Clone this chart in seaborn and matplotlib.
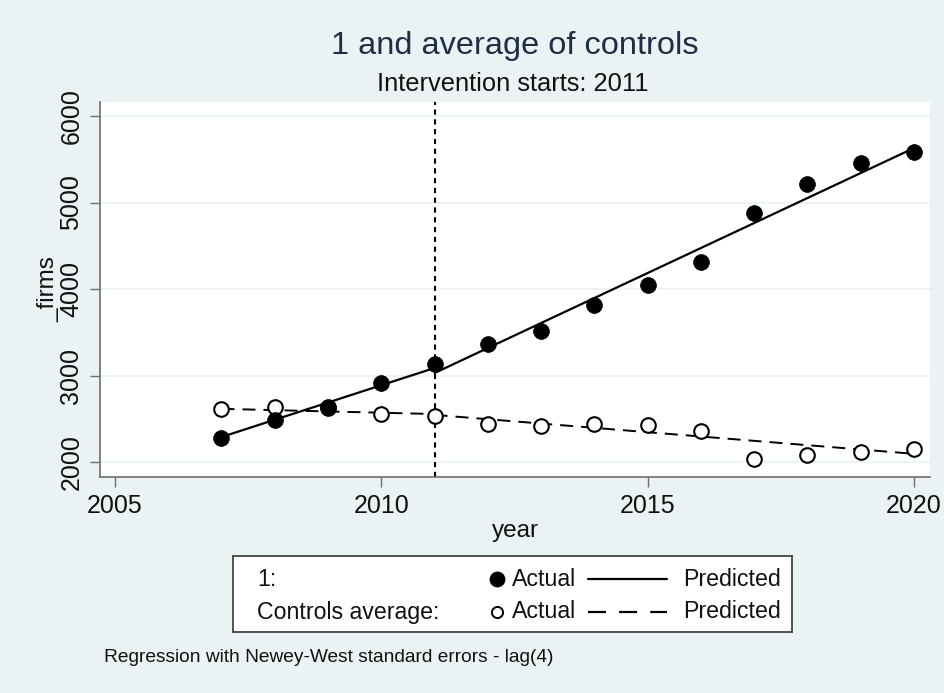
import seaborn as sns
import matplotlib.pyplot as plt
import pandas as pd
from matplotlib.lines import Line2D

# data
years = [2007, 2008, 2009, 2010, 2011, 2012, 2013, 2014, 2015, 2016, 2017, 2018, 2019, 2020]
treated_actual = [2277, 2486, 2636, 2913, 3133, 3364, 3514, 3815, 4046, 4312, 4879, 5214, 5457, 5584]
controls_actual = [2613, 2636, 2630, 2555, 2532, 2439, 2416, 2439, 2428, 2358, 2035, 2081, 2116, 2150]

pre_years = [2007, 2008, 2009, 2010, 2011]
treated_pred_pre = [2289, 2489, 2688, 2888, 3087]
controls_pred_pre = [2615, 2600, 2585, 2570, 2555]

post_years = [2011, 2012, 2013, 2014, 2015, 2016, 2017, 2018, 2019, 2020]
treated_pred_post = [3029, 3318, 3607, 3896, 4185, 4474, 4763, 5052, 5341, 5630]
controls_pred_post = [2545, 2495, 2445, 2395, 2345, 2295, 2245, 2195, 2145, 2095]

x_ticks = [2005, 2010, 2015, 2020]
y_ticks = [2000, 3000, 4000, 5000, 6000]
intervention = 2011

actual = pd.DataFrame({"year": years, "treated": treated_actual, "controls": controls_actual})
pre = pd.DataFrame({"year": pre_years, "treated": treated_pred_pre, "controls": controls_pred_pre})
post = pd.DataFrame({"year": post_years, "treated": treated_pred_post, "controls": controls_pred_post})

sns.set_style("white")
plt.rcParams["font.family"] = ["Liberation Sans", "DejaVu Sans"]

BG = "#eaf2f3"
W, H = 944, 693
fig = plt.figure(figsize=(W / 100, H / 100), dpi=100, facecolor=BG)
ax = fig.add_axes([100 / W, 1 - 477 / H, 830 / W, 375 / H])
ax.set_facecolor("white")

# gridlines
for yt in y_ticks:
    ax.axhline(yt, color=BG, lw=1.2, zorder=0)

# predicted lines
for df in (pre, post):
    sns.lineplot(data=df, x="year", y="treated", ax=ax, color="black", lw=1.6, zorder=2)
    sns.lineplot(data=df, x="year", y="controls", ax=ax, color="black", lw=1.4,
                 linestyle=(0, (6.7, 4.1)), zorder=2)

# actual points
sns.scatterplot(data=actual, x="year", y="controls", ax=ax, s=110, marker="o",
                facecolor="white", edgecolor="black", linewidth=1.5, zorder=3)
sns.scatterplot(data=actual, x="year", y="treated", ax=ax, s=130, marker="o",
                color="black", edgecolor="black", linewidth=0.5, zorder=4)

ax.axvline(intervention, color="black", lw=1.5, linestyle=(0, (2.5, 2.2)), zorder=1)

ax.set_xlim(2004.72, 2020.3)
ax.set_ylim(1827, 6162)
ax.set_xticks(x_ticks)
ax.set_yticks(y_ticks)
ax.set_yticklabels([str(v) for v in y_ticks], rotation=90, va="center")
ax.tick_params(axis="both", direction="out", length=7, width=1, color="#6e6e6e",
               labelsize=18, labelcolor="#111111", pad=5)
ax.tick_params(axis="x", pad=5)
ax.tick_params(axis="y", left=True)
ax.tick_params(axis="x", bottom=True)
for side in ("top", "right"):
    ax.spines[side].set_visible(False)
for side in ("left", "bottom"):
    ax.spines[side].set_color("#6e6e6e")
    ax.spines[side].set_linewidth(1.2)

ax.set_xlabel("year", fontsize=17.5, color="#111111", labelpad=2)
ax.set_ylabel("_firms", fontsize=17.5, color="#111111", labelpad=0)

fig.text(515 / W, 1 - 46 / H, "1 and average of controls", ha="center", va="center",
         fontsize=23.4, color="#1e2e45")
fig.text(513 / W, 1 - 84 / H, "Intervention starts: 2011", ha="center", va="center",
         fontsize=18.4, color="#111111")

# legend box
lax = fig.add_axes([233 / W, 1 - 632 / H, 559 / W, 76 / H])
lax.set_xlim(233, 792)
lax.set_ylim(632, 556)
lax.set_xticks([])
lax.set_yticks([])
lax.set_facecolor("white")
for s in lax.spines.values():
    s.set_color("#444444")
    s.set_linewidth(1.3)
rows = [(579, "1:", "black", "-"), (612, "Controls average:", "white", (0, (8.1, 5.9)))]
for y, lab, fc, ls in rows:
    lax.text(257, y, lab, va="center", ha="left", fontsize=16.7, color="#111111")
    ms = 10 if fc == "black" else 8
    lax.add_line(Line2D([497], [y], marker="o", markersize=ms, markerfacecolor=fc,
                        markeredgecolor="black", markeredgewidth=1.4, linestyle="none"))
    lax.text(512, y, "Actual", va="center", ha="left", fontsize=16.7, color="#111111")
    lax.add_line(Line2D([588, 667], [y, y], color="black", lw=1.6, linestyle=ls))
    lax.text(683, y, "Predicted", va="center", ha="left", fontsize=16.7, color="#111111")

fig.text(104 / W, 1 - 657 / H, "Regression with Newey-West standard errors - lag(4)",
         ha="left", va="center", fontsize=13.8, color="#111111")

fig.savefig("out.png", dpi=100, facecolor=BG)
